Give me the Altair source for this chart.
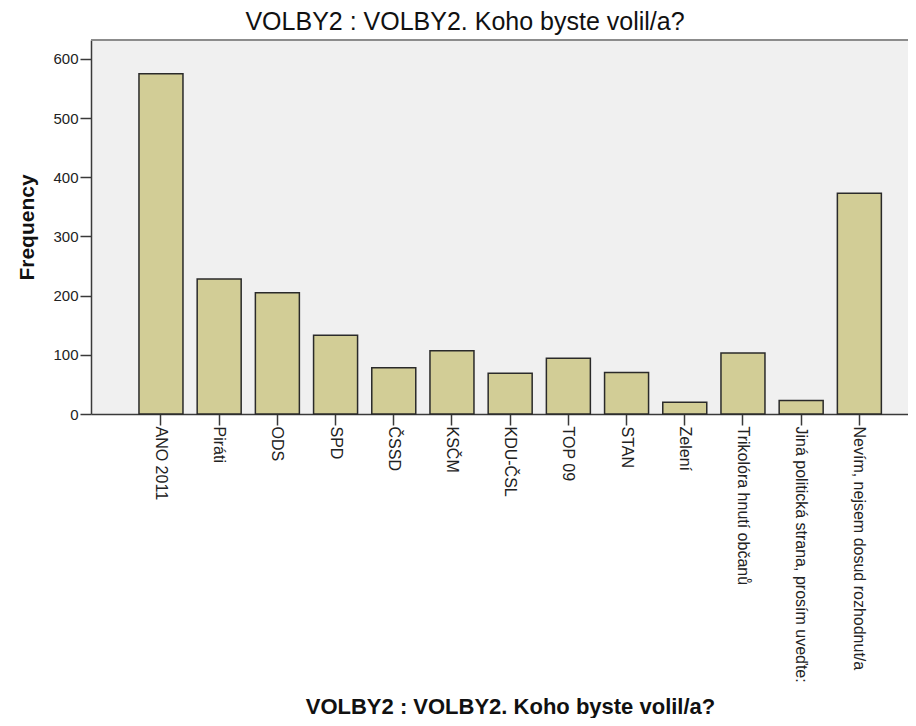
import altair as alt
import pandas as pd

parties = [
    "ANO 2011", "Piráti", "ODS", "SPD", "ČSSD", "KSČM", "KDU-ČSL", "TOP 09",
    "STAN", "Zelení", "Trikolóra hnutí občanů",
    "Jiná politická strana, prosím uveďte:",
    "Nevím, nejsem dosud rozhodnut/a",
]
counts = [575, 228, 205, 133, 78, 107, 69, 94, 70, 20, 103, 23, 373]
y_ticks = [0, 100, 200, 300, 400, 500, 600]

df = pd.DataFrame({"party": parties, "count": counts})

W, H = 817, 374
FONT = "Liberation Sans"
TITLE = "VOLBY2 : VOLBY2. Koho byste volil/a?"

bars = alt.Chart(df).mark_bar(
    fill="#d2cd96", stroke="#2a2a2a", strokeWidth=1.5
).encode(
    x=alt.X(
        "party:N", sort=parties,
        scale=alt.Scale(paddingInner=0.244, paddingOuter=0.641, align=0.643),
        axis=alt.Axis(
            title=TITLE, labelAngle=90, labelAlign="left", labelBaseline="middle",
            labelFontSize=16, labelPadding=1, tickSize=11, labelLimit=0,
            titleX=419, titleY=299, titleBaseline="alphabetic", titleAlign="center",
            titleFontSize=22, titleFontWeight="bold",
        ),
    ),
    y=alt.Y(
        "count:Q", scale=alt.Scale(domain=[0, 632], nice=False),
        axis=alt.Axis(
            title="Frequency", values=y_ticks, grid=False, labelFontSize=15,
            tickSize=11, labelPadding=2,
            titleX=-58, titleY=187, titleBaseline="alphabetic", titleAlign="center",
            titleFontSize=21, titleFontWeight="bold",
        ),
    ),
)

top_border = alt.Chart(pd.DataFrame({"k": [0]})).mark_rule(
    color="#8c8c8c", strokeWidth=2
).encode(x=alt.value(0), x2=alt.value(W), y=alt.value(0))

chart = alt.layer(bars, top_border).properties(
    width=W, height=H,
    title=alt.TitleParams(
        text=TITLE, fontSize=25, fontWeight="normal", font=FONT, color="#111111",
        anchor="middle", dx=-34.5,
    ),
    autosize=alt.AutoSizeParams(type="none"),
    padding={"left": 83, "top": 32, "right": 0, "bottom": 304},
    background="white",
).configure_view(
    fill="#f0f0f0", strokeWidth=0
).configure_axis(
    labelFont=FONT, titleFont=FONT, labelColor="#222222", titleColor="#111111",
    domainColor="#3a3a3a", domainWidth=1.5, tickColor="#3a3a3a", tickWidth=1.5,
)

chart.save("out.html", embed_options={"renderer": "svg", "actions": False})
